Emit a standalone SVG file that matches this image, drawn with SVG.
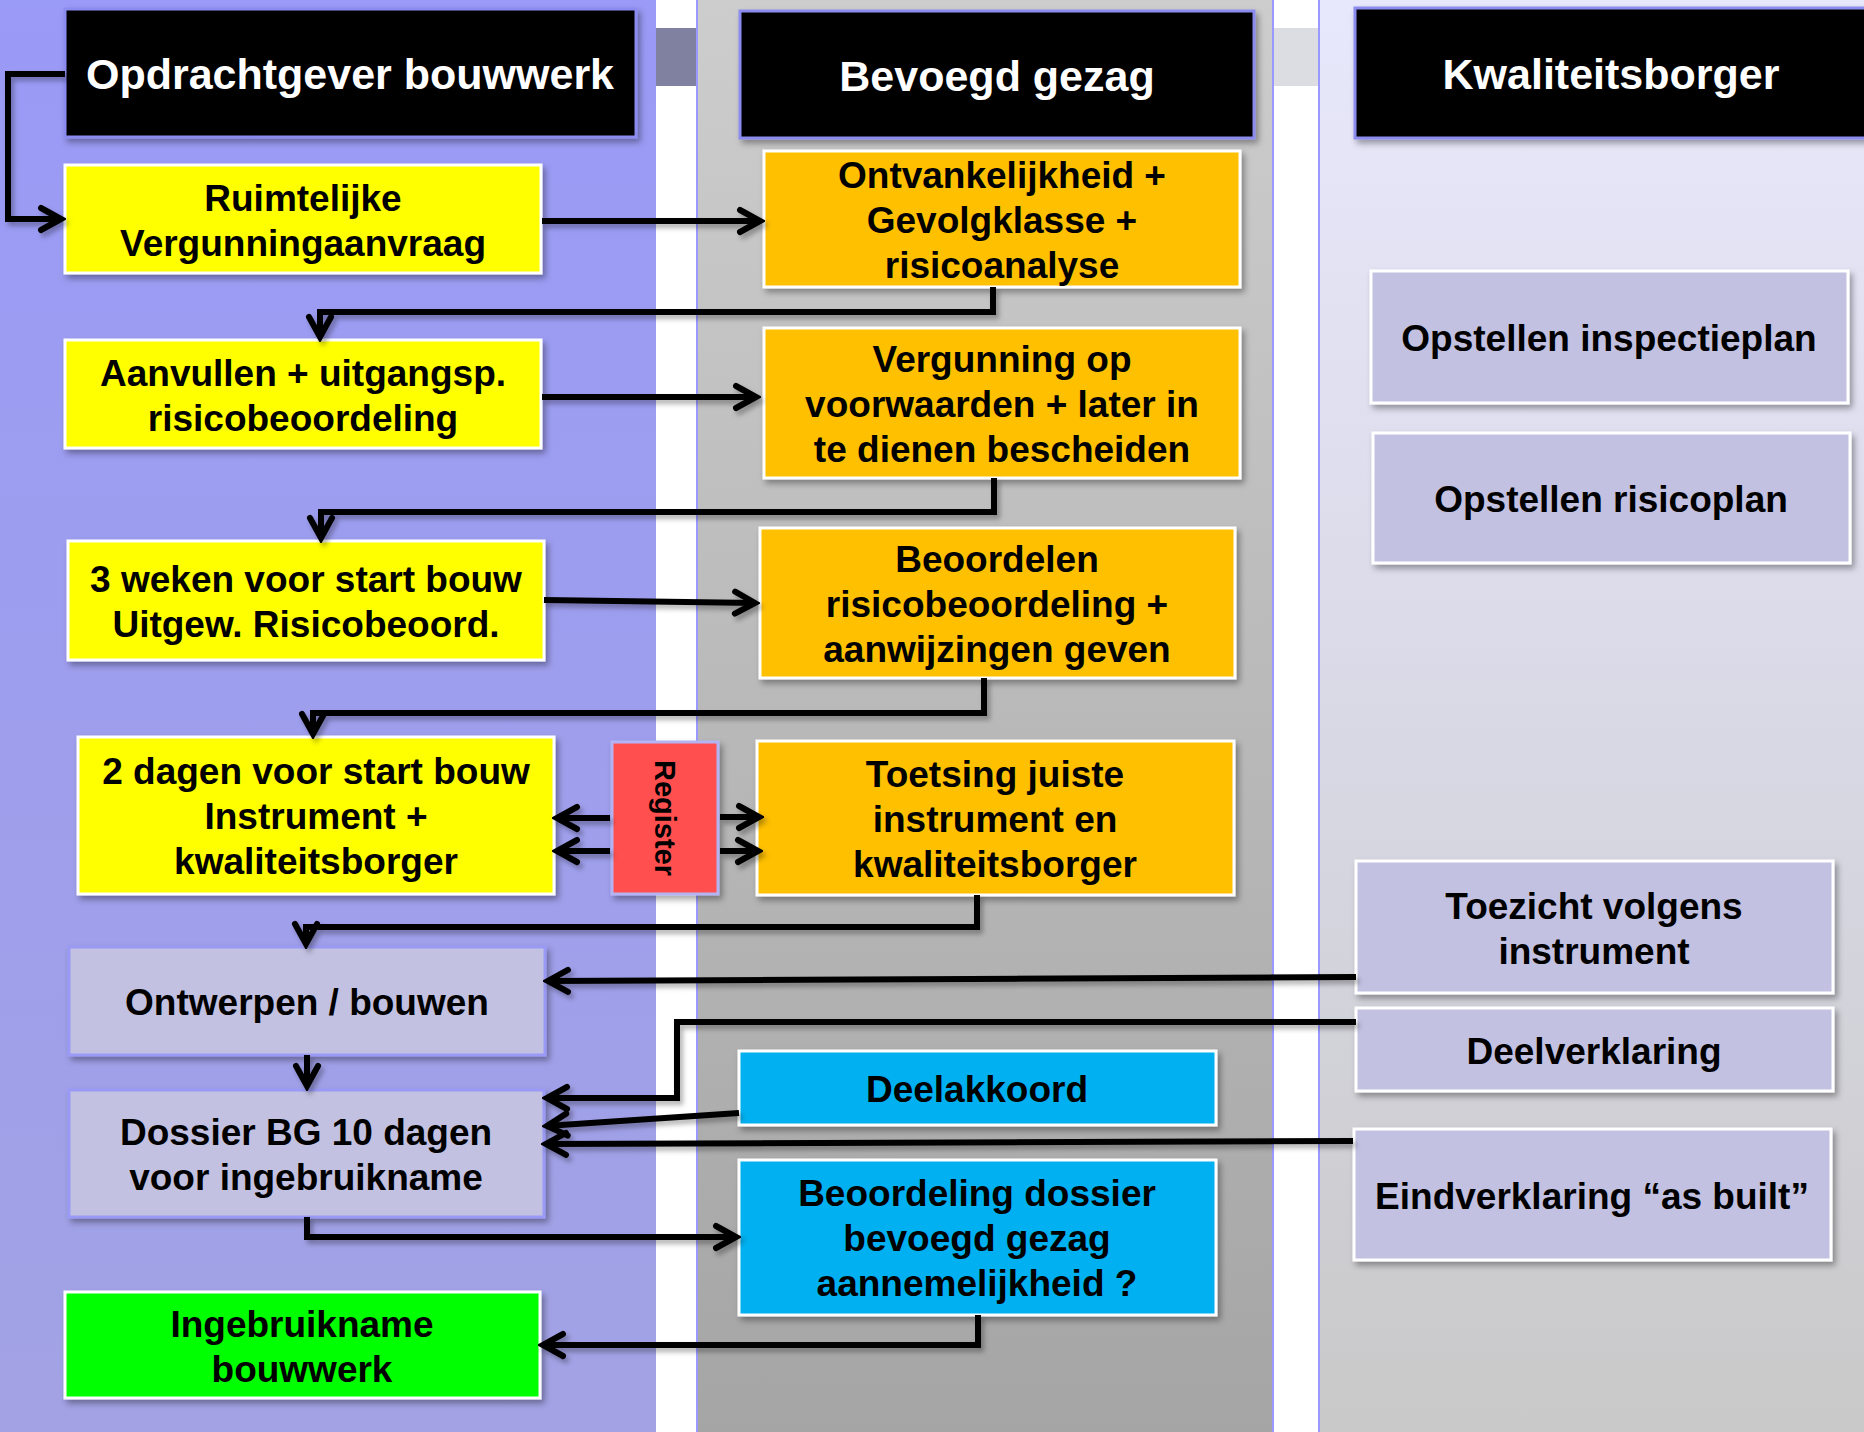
<svg xmlns="http://www.w3.org/2000/svg" width="1864" height="1432" viewBox="0 0 1864 1432">
<defs>
  <linearGradient id="gL" x1="0" y1="0" x2="0" y2="1">
    <stop offset="0" stop-color="#9a9af7"/>
    <stop offset="1" stop-color="#a2a2e4"/>
  </linearGradient>
  <linearGradient id="gM" x1="0" y1="0" x2="0" y2="1">
    <stop offset="0" stop-color="#cdcdcd"/>
    <stop offset="1" stop-color="#a5a5a5"/>
  </linearGradient>
  <linearGradient id="gR" x1="0" y1="0" x2="0" y2="1">
    <stop offset="0" stop-color="#e8e8fc"/>
    <stop offset="0.5" stop-color="#d9d9e6"/>
    <stop offset="1" stop-color="#c9c9c9"/>
  </linearGradient>
  <filter id="sh" x="-10%" y="-10%" width="125%" height="135%">
    <feDropShadow dx="3" dy="4" stdDeviation="3" flood-color="#000" flood-opacity="0.35"/>
  </filter>
  <filter id="shc" filterUnits="userSpaceOnUse" x="0" y="0" width="1864" height="1432">
    <feDropShadow dx="3" dy="4" stdDeviation="2.5" flood-color="#000" flood-opacity="0.3"/>
  </filter>
  <marker id="ah" markerUnits="userSpaceOnUse" viewBox="-26 -15 30 30" refX="0" refY="0" markerWidth="30" markerHeight="30" orient="auto">
    <path d="M-21,-11 L-1,0 L-21,11" fill="none" stroke="#000" stroke-width="6" stroke-linecap="round" stroke-linejoin="miter"/>
  </marker>
  <style>
    .t { font-family: "Liberation Sans", Arial, sans-serif; font-weight: bold; font-size: 37px; text-anchor: middle; fill: #000; }
    .h { font-size: 43px; fill: #fff; }
    .hdr { fill: #000; stroke: #8b8bf0; stroke-width: 3; filter: url(#sh); }
    .y { fill: #ffff00; stroke: #fff; stroke-width: 3; filter: url(#sh); }
    .o { fill: #ffc000; stroke: #fff; stroke-width: 3; filter: url(#sh); }
    .b { fill: #00b0f0; stroke: #fff; stroke-width: 3; filter: url(#sh); }
    .g { fill: #00ff00; stroke: #fff; stroke-width: 3; filter: url(#sh); }
    .lv { fill: #c2c1e1; stroke: #9a9af6; stroke-width: 3; filter: url(#sh); }
    .rv { fill: #c2c1e1; stroke: #fff; stroke-width: 3; filter: url(#sh); }
    .rg { fill: #ff5050; stroke: #b4b4f4; stroke-width: 3; filter: url(#sh); }
    .c { fill: none; stroke: #000; stroke-width: 6; marker-end: url(#ah); }
  </style>
</defs>

<!-- columns -->
<g id="background">
  <rect x="0" y="0" width="656" height="1432" fill="url(#gL)"/>
  <rect x="656" y="0" width="41" height="1432" fill="#ffffff"/>
  <rect x="656" y="28" width="40" height="58" fill="#8080a0"/>
  <rect x="697" y="0" width="576" height="1432" fill="url(#gM)"/>
  <rect x="1273" y="0" width="46" height="1432" fill="#ffffff"/>
  <rect x="1274" y="28" width="44" height="58" fill="#dcdde2"/>
  <rect x="1319" y="0" width="545" height="1432" fill="url(#gR)"/>
  <line x1="697" y1="0" x2="697" y2="1432" stroke="#9999ff" stroke-width="2"/>
  <line x1="1273" y1="0" x2="1273" y2="1432" stroke="#9999ff" stroke-width="2"/>
  <line x1="1319" y1="0" x2="1319" y2="1432" stroke="#9999ff" stroke-width="2"/>
</g>

<!-- headers -->
<g id="hdr-opdrachtgever">
  <rect class="hdr" x="65" y="9" width="571" height="128"/>
  <text class="t h" x="350" y="89">Opdrachtgever bouwwerk</text>
</g>
<g id="hdr-bevoegd">
  <rect class="hdr" x="740" y="11" width="514" height="127"/>
  <text class="t h" x="997" y="91">Bevoegd gezag</text>
</g>
<g id="hdr-kwaliteitsborger">
  <rect class="hdr" x="1355" y="8" width="512" height="130"/>
  <text class="t h" x="1611" y="89">Kwaliteitsborger</text>
</g>

<!-- left column nodes -->
<g id="n-ruimtelijke">
  <rect class="y" x="65" y="165" width="476" height="108"/>
  <text class="t" x="303" y="211">Ruimtelijke</text>
  <text class="t" x="303" y="256">Vergunningaanvraag</text>
</g>
<g id="n-aanvullen">
  <rect class="y" x="65" y="340" width="476" height="108"/>
  <text class="t" x="303" y="386">Aanvullen + uitgangsp.</text>
  <text class="t" x="303" y="431">risicobeoordeling</text>
</g>
<g id="n-3weken">
  <rect class="y" x="68" y="541" width="476" height="119"/>
  <text class="t" x="306" y="592">3 weken voor start bouw</text>
  <text class="t" x="306" y="637">Uitgew. Risicobeoord.</text>
</g>
<g id="n-2dagen">
  <rect class="y" x="78" y="737" width="476" height="157"/>
  <text class="t" x="316" y="784">2 dagen voor start bouw</text>
  <text class="t" x="316" y="829">Instrument +</text>
  <text class="t" x="316" y="874">kwaliteitsborger</text>
</g>
<g id="n-register">
  <rect class="rg" x="612" y="742" width="106" height="152"/>
  <text class="t" style="font-size:29px" transform="translate(665,818) rotate(90)" x="0" y="10">Register</text>
</g>
<g id="n-ontwerpen">
  <rect class="lv" x="69" y="947" width="476" height="108"/>
  <text class="t" x="307" y="1015">Ontwerpen / bouwen</text>
</g>
<g id="n-dossier">
  <rect class="lv" x="69" y="1090" width="475" height="127"/>
  <text class="t" x="306" y="1145">Dossier BG 10 dagen</text>
  <text class="t" x="306" y="1190">voor ingebruikname</text>
</g>
<g id="n-ingebruikname">
  <rect class="g" x="65" y="1292" width="475" height="106"/>
  <text class="t" x="302" y="1337">Ingebruikname</text>
  <text class="t" x="302" y="1382">bouwwerk</text>
</g>

<!-- middle column nodes -->
<g id="n-ontvankelijkheid">
  <rect class="o" x="764" y="151" width="476" height="136"/>
  <text class="t" x="1002" y="188">Ontvankelijkheid +</text>
  <text class="t" x="1002" y="233">Gevolgklasse +</text>
  <text class="t" x="1002" y="278">risicoanalyse</text>
</g>
<g id="n-vergunning">
  <rect class="o" x="764" y="328" width="476" height="150"/>
  <text class="t" x="1002" y="372">Vergunning op</text>
  <text class="t" x="1002" y="417">voorwaarden + later in</text>
  <text class="t" x="1002" y="462">te dienen bescheiden</text>
</g>
<g id="n-beoordelen">
  <rect class="o" x="760" y="528" width="475" height="150"/>
  <text class="t" x="997" y="572">Beoordelen</text>
  <text class="t" x="997" y="617">risicobeoordeling +</text>
  <text class="t" x="997" y="662">aanwijzingen geven</text>
</g>
<g id="n-toetsing">
  <rect class="o" x="757" y="741" width="477" height="154"/>
  <text class="t" x="995" y="787">Toetsing juiste</text>
  <text class="t" x="995" y="832">instrument en</text>
  <text class="t" x="995" y="877">kwaliteitsborger</text>
</g>
<g id="n-deelakkoord">
  <rect class="b" x="739" y="1051" width="477" height="74"/>
  <text class="t" x="977" y="1102">Deelakkoord</text>
</g>
<g id="n-beoordeling-dossier">
  <rect class="b" x="739" y="1160" width="477" height="155"/>
  <text class="t" x="977" y="1206">Beoordeling dossier</text>
  <text class="t" x="977" y="1251">bevoegd gezag</text>
  <text class="t" x="977" y="1296">aannemelijkheid ?</text>
</g>

<!-- right column nodes -->
<g id="n-inspectieplan">
  <rect class="rv" x="1371" y="271" width="477" height="132"/>
  <text class="t" x="1609" y="351">Opstellen inspectieplan</text>
</g>
<g id="n-risicoplan">
  <rect class="rv" x="1373" y="433" width="477" height="130"/>
  <text class="t" x="1611" y="512">Opstellen risicoplan</text>
</g>
<g id="n-toezicht">
  <rect class="rv" x="1356" y="861" width="477" height="132"/>
  <text class="t" x="1594" y="919">Toezicht volgens</text>
  <text class="t" x="1594" y="964">instrument</text>
</g>
<g id="n-deelverklaring">
  <rect class="rv" x="1356" y="1008" width="477" height="83"/>
  <text class="t" x="1594" y="1064">Deelverklaring</text>
</g>
<g id="n-eindverklaring">
  <rect class="rv" x="1354" y="1129" width="477" height="131"/>
  <text class="t" x="1592" y="1209">Eindverklaring “as built”</text>
</g>

<!-- connectors -->
<g id="connectors" filter="url(#shc)">
  <path class="c" d="M65,74 H8 V219 H62"/>
  <path class="c" d="M542,221 H761"/>
  <path class="c" d="M993,287 V312 H320 V338"/>
  <path class="c" d="M542,397 H757"/>
  <path class="c" d="M994,478 V512 H321 V539"/>
  <path class="c" d="M544,600 L756,603"/>
  <path class="c" d="M984,678 V713 H313 V735"/>
  <path class="c" d="M610,818 H556"/>
  <path class="c" d="M610,851 H556"/>
  <path class="c" d="M720,817 H760"/>
  <path class="c" d="M720,851 H759"/>
  <path class="c" d="M977,895 V927 H306 V945"/>
  <path class="c" d="M1356,977 L547,981"/>
  <path class="c" d="M307,1055 V1087"/>
  <path class="c" d="M1356,1022 H677 V1098 H546"/>
  <path class="c" d="M739,1113 L546,1126"/>
  <path class="c" d="M1353,1141 L545,1144"/>
  <path class="c" d="M307,1217 V1237 H737"/>
  <path class="c" d="M978,1315 V1345 H542"/>
</g>
</svg>
